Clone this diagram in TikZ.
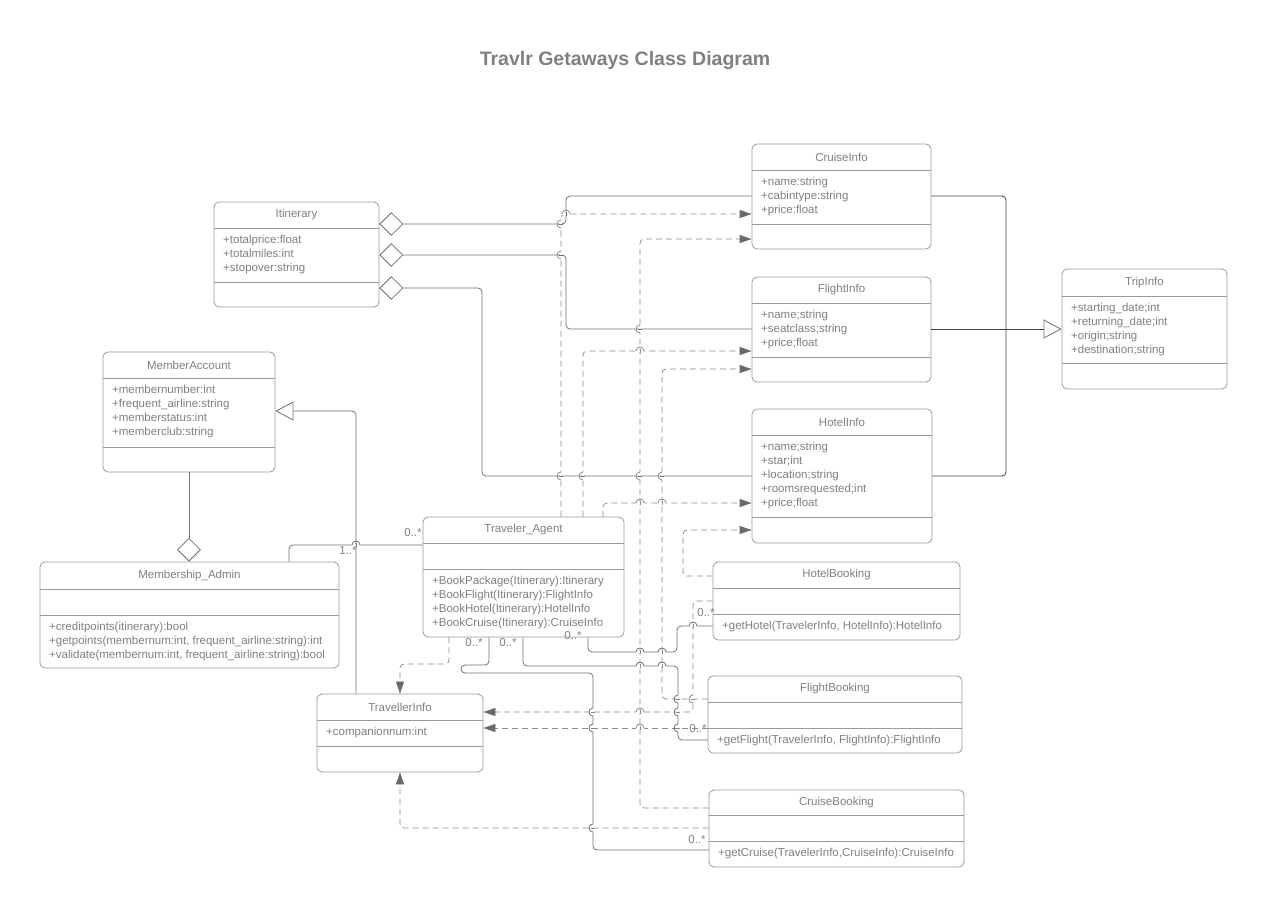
\documentclass[tikz,border=0pt]{standalone}
\usepackage{fontspec}
\setmainfont{Liberation Sans}
\usetikzlibrary{arrows.meta,shapes.geometric,fit}
\definecolor{boxline}{HTML}{9A9A9A}
\definecolor{txt}{HTML}{808080}
\definecolor{conn}{HTML}{707070}
\definecolor{dconn}{HTML}{8C8C8C}
\definecolor{dark}{HTML}{404040}
\definecolor{tipc}{HTML}{6A6A6A}
\newcommand{\umlbox}[8]{%
  \node[classbox, fit={(#2,#3) (#4,#5)}] (#1) {};
  \draw[divider] (#2,#6) -- (#4,#6);
  \draw[divider] (#2,#7) -- (#4,#7);
  \node[titletext] (#1-title) at ({(#2+#4)/2},{(#3+#6)/2}) {#8};}
% hop on a vertical line (bulges left): x, y, hopping colour, crossed colour
\newcommand{\hopv}[4]{%
  \fill[white] (#1-1.3,#2-4.3) rectangle (#1+1.3,#2+4.3);
  \draw[#4, line width=0.8pt] (#1-1.8,#2) -- (#1+1.8,#2);
  \draw[#3, line width=0.8pt] (#1,#2+4) .. controls (#1-5.3,#2+4) and (#1-5.3,#2-4) .. (#1,#2-4);}
% hop on a horizontal line (bulges up): x, y, hopping colour, crossed colour
\newcommand{\hoph}[4]{%
  \fill[white] (#1-4.3,#2-1.3) rectangle (#1+4.3,#2+1.3);
  \draw[#4, line width=0.8pt] (#1,#2-1.8) -- (#1,#2+1.8);
  \draw[#3, line width=0.8pt] (#1-4,#2) .. controls (#1-4,#2-5.3) and (#1+4,#2-5.3) .. (#1+4,#2);}
\begin{document}
\begin{tikzpicture}[x=1pt,y=-1pt,
  classbox/.style={draw=boxline, line width=0.8pt, rounded corners=5pt, inner sep=0pt, fill=white},
  divider/.style={draw=boxline, line width=0.8pt},
  titletext/.style={text=txt, font=\fontsize{11.5}{14}\selectfont, inner sep=0pt},
  bodytext/.style={text=txt, font=\fontsize{11.5}{14}\selectfont, inner sep=0pt, align=left, anchor=north west},
  mult/.style={text=txt, font=\fontsize{11.5}{14}\selectfont, inner sep=0pt},
  assoc/.style={draw=conn, line width=0.8pt, rounded corners=4pt},
  genl/.style={draw=dark, line width=0.8pt, rounded corners=4pt},
  dep/.style={draw=dconn, line width=0.8pt, dash pattern=on 6pt off 4pt, rounded corners=4pt,
     -{Triangle[length=12pt,width=8pt,fill=tipc,color=tipc]}},
  gen/.style={draw=conn, line width=0.8pt, rounded corners=4pt,
     -{Triangle[length=18pt,width=19pt,fill=white,color=conn]}},
  agg/.style={diamond, draw=conn, line width=0.8pt, fill=white, minimum width=23pt, minimum height=23pt, inner sep=0pt, aspect=1},
]
\useasboundingbox (0,0) rectangle (1263,914);
\node[text=txt, font=\bfseries\fontsize{19.5}{22}\selectfont, inner sep=0pt] (title) at (625,60) {Travlr Getaways Class Diagram};

% ---------------- classes
\umlbox{itin}{214}{202}{379}{307}{228}{282}{Itinerary}
\node[bodytext] (itin-attr) at (223,234) {\rule{0pt}{9pt}+totalprice:float\\+totalmiles:int\\+stopover:string};

\umlbox{cruise}{752}{144}{931}{249}{170}{224}{CruiseInfo}
\node[bodytext] (cruise-attr) at (761,176) {\rule{0pt}{9pt}+name:string\\+cabintype:string\\+price:float};

\umlbox{flight}{752}{277}{931}{382}{303}{357}{FlightInfo}
\node[bodytext] (flight-attr) at (761,309) {\rule{0pt}{9pt}+name;string\\+seatclass;string\\+price;float};

\umlbox{hotel}{752}{409}{932}{543}{435}{517}{HotelInfo}
\node[bodytext] (hotel-attr) at (761,441) {\rule{0pt}{9pt}+name;string\\+star;int\\+location;string\\+roomsrequested;int\\+price;float};

\umlbox{trip}{1062}{269}{1227}{389}{296}{363}{TripInfo}
\node[bodytext] (trip-attr) at (1071,302) {\rule{0pt}{9pt}+starting\_date;int\\+returning\_date;int\\+origin;string\\+destination;string};

\umlbox{member}{103}{352}{275}{472}{378}{447}{MemberAccount}
\node[bodytext] (member-attr) at (112,384) {\rule{0pt}{9pt}+membernumber:int\\+frequent\_airline:string\\+memberstatus:int\\+memberclub:string};

\umlbox{admin}{40}{562}{339}{668}{589}{615}{Membership\_Admin}
\node[bodytext] (admin-meth) at (49,621) {\rule{0pt}{9pt}+creditpoints(itinerary):bool\\+getpoints(membernum:int, frequent\_airline:string):int\\+validate(membernum:int, frequent\_airline:string):bool};

\umlbox{agent}{423}{517}{624}{637}{543}{569}{Traveler\_Agent}
\node[bodytext] (agent-meth) at (432,575) {\rule{0pt}{9pt}+BookPackage(Itinerary):Itinerary\\+BookFlight(Itinerary):FlightInfo\\+BookHotel(Itinerary):HotelInfo\\+BookCruise(Itinerary):CruiseInfo};

\umlbox{hbook}{713}{562}{960}{640}{588}{614}{HotelBooking}
\node[bodytext] (hbook-meth) at (722,620) {\rule{0pt}{9pt}+getHotel(TravelerInfo, HotelInfo):HotelInfo};

\umlbox{fbook}{708}{676}{962}{753}{702}{728}{FlightBooking}
\node[bodytext] (fbook-meth) at (717,734) {\rule{0pt}{9pt}+getFlight(TravelerInfo, FlightInfo):FlightInfo};

\umlbox{cbook}{709}{790}{964}{867}{815}{841}{CruiseBooking}
\node[bodytext] (cbook-meth) at (718,847) {\rule{0pt}{9pt}+getCruise(TravelerInfo,CruiseInfo):CruiseInfo};

\umlbox{tinfo}{317}{694}{483}{772}{720}{746}{TravellerInfo}
\node[bodytext] (tinfo-attr) at (326,726) {\rule{0pt}{9pt}+companionnum:int};

% ---------------- aggregations (Itinerary)
\node[agg, anchor=west] (dia1) at (itin.east |- 0,224) {};
\node[agg, anchor=west] (dia2) at (itin.east |- 0,255) {};
\node[agg, anchor=west] (dia3) at (itin.east |- 0,288) {};
\draw[assoc] (dia1.east) -- (566,224) -- (566,196) -- (cruise.west |- 0,196);
\draw[assoc] (dia2.east) -- (566,255) -- (566,329) -- (flight.west |- 0,329);
\draw[assoc] (dia3.east) -- (482,288) -- (482,476) -- (hotel.west |- 0,476);

% aggregation MemberAccount - Membership_Admin
\node[agg, anchor=south] (dia4) at (admin.north -| member.south) {};
\draw[assoc] (member.south) -- (dia4.north);

% ---------------- generalisations
\draw[genl] (cruise.east |- 0,196) -- (1006,196) -- (1006,476) -- (hotel.east |- 0,476);
\draw[gen, draw=dark] (flight.east |- 0,329) -- (trip.west |- 0,329);
\draw[gen] (tinfo.north -| 356,0) -- (356,411) -- (member.east |- 0,411);

% ---------------- association Agent - Admin
\draw[assoc] (agent.west |- 0,545) -- (289,545) -- (admin.north -| 289,0);
\node[mult] (m-admin) at (348,551) {1..*};
\node[mult] (m-agent) at (413,533) {0..*};

% ---------------- dependencies to info classes
\draw[dep] (agent.north -| 561,0) -- (561,214) -- (cruise.west |- 0,214);
\draw[dep] (agent.north -| 583,0) -- (583,351) -- (flight.west |- 0,351);
\draw[dep] (agent.north -| 603,0) -- (603,503) -- (hotel.west |- 0,503);
\draw[dep] (cbook.west |- 0,808) -- (640,808) -- (640,239) -- (cruise.west |- 0,239);
\draw[dep] (fbook.west |- 0,699) -- (662,699) -- (662,369) -- (flight.west |- 0,369);
\draw[dep] (hbook.west |- 0,576) -- (683,576) -- (683,530) -- (hotel.west |- 0,530);

% ---------------- dependencies to TravellerInfo
\draw[dep] (agent.south -| 449,0) -- (449,664) -- (400,664) -- (tinfo.north -| 400,0);
\draw[dep] (hbook.west |- 0,601) -- (693,601) -- (693,712) -- (tinfo.east |- 0,712);
\draw[dep] (fbook.west |- 0,728) -- (tinfo.east |- 0,728);
\draw[dep] (cbook.west |- 0,828) -- (400,828) -- (tinfo.south -| 400,0);

% ---------------- associations Agent - bookings
\draw[assoc] (agent.south -| 588,0) -- (588,652) -- (677,652) -- (677,626) -- (hbook.west |- 0,626);
\draw[assoc] (agent.south -| 523,0) -- (523,666) -- (678,666) -- (678,740) -- (fbook.west |- 0,740);
\draw[assoc] (agent.south -| 489,0) -- (489,665) -- (461,665) -- (461,673) -- (593,673) -- (593,850) -- (cbook.west |- 0,850);

% ---------------- line hops
\hopv{561}{224}{dconn}{conn}
\hopv{561}{255}{dconn}{conn}
\hopv{561}{476}{dconn}{conn}
\hopv{583}{476}{dconn}{conn}
\hopv{640}{476}{dconn}{conn}
\hopv{662}{476}{dconn}{conn}
\hopv{640}{329}{dconn}{conn}
\hopv{693}{699}{dconn}{dconn}
\hopv{678}{699}{conn}{dconn}
\hopv{678}{712}{conn}{dconn}
\hopv{678}{728}{conn}{dconn}
\hopv{593}{712}{conn}{dconn}
\hopv{593}{728}{conn}{dconn}
\hopv{593}{828}{conn}{dconn}
\hoph{566}{214}{dconn}{conn}
\hoph{640}{351}{dconn}{dconn}
\hoph{640}{503}{dconn}{dconn}
\hoph{662}{503}{dconn}{dconn}
\hoph{640}{652}{conn}{dconn}
\hoph{662}{652}{conn}{dconn}
\hoph{640}{666}{conn}{dconn}
\hoph{662}{666}{conn}{dconn}
\hoph{693}{626}{conn}{dconn}
\hoph{640}{712}{dconn}{dconn}
\hoph{640}{728}{dconn}{dconn}
\hoph{356}{545}{conn}{conn}

% ---------------- multiplicities
\node[mult] (m-a1) at (474,643) {0..*};
\node[mult] (m-a2) at (508,643) {0..*};
\node[mult] (m-a3) at (573,636) {0..*};
\node[mult] (m-h) at (706,613) {0..*};
\node[mult] (m-f) at (698,729) {0..*};
\node[mult] (m-c) at (697,840) {0..*};
\end{tikzpicture}
\end{document}
